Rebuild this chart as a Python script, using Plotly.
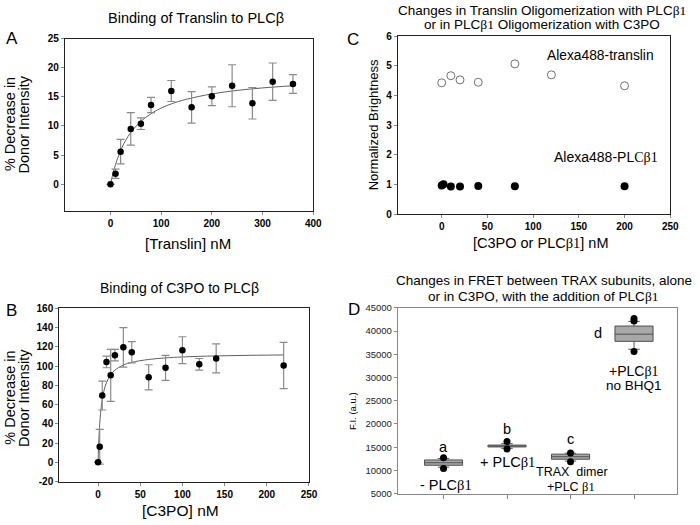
import plotly.graph_objects as go

# ---------- Panel A data ----------
a_x = [0, 10, 20, 40, 60, 80, 120, 160, 200, 240, 280, 320, 360]
a_y = [0, 1.8, 5.6, 9.5, 10.4, 13.6, 16.0, 13.2, 15.1, 16.9, 13.9, 17.6, 17.2]
a_err = [0, 0.8, 2.1, 2.8, 1.0, 1.3, 1.8, 2.7, 1.6, 3.6, 2.7, 3.2, 1.6]
a_fit_x = [0, 5, 10, 20, 30, 40, 60, 80, 100, 120, 150, 200, 250, 300, 360]
a_fit_y = [0, 1.87, 3.41, 5.79, 7.54, 8.88, 10.79, 12.11, 13.07, 13.79, 14.58, 15.50, 16.10, 16.53, 16.90]
a_xticks = [0, 100, 200, 300, 400]
a_yticks = [0, 5, 10, 15, 20, 25]

# ---------- Panel B data ----------
b_x = [0, 2, 5, 10, 15, 20, 30, 40, 60, 80, 100, 120, 140, 220]
b_y = [0, 16.2, 69.3, 104.2, 90.3, 111.3, 119.4, 114.3, 88.3, 98.1, 116.4, 101.8, 107.9, 100.5]
b_err = [0, 18, 15, 6, 27, 6, 20.5, 11, 13, 13, 14, 6, 15, 24]
b_fit_x = [0, 1, 2, 3, 5, 7, 10, 15, 20, 30, 40, 60, 80, 100, 140, 180, 220]
b_fit_y = [0, 24.2, 39.9, 50.9, 65.2, 74.3, 82.8, 91.0, 95.7, 101.0, 103.8, 106.8, 108.4, 109.4, 110.5, 111.1, 111.5]
b_xticks = [0, 50, 100, 150, 200, 250]
b_yticks = [-20, 0, 20, 40, 60, 80, 100, 120, 140, 160]

# ---------- Panel C data ----------
c_trans_x = [0, 10, 20, 40, 80, 120, 200]
c_trans_y = [4.43, 4.67, 4.53, 4.45, 5.07, 4.70, 4.33]
c_plc_x = [0, 2, 10, 20, 40, 80, 200]
c_plc_y = [0.97, 1.01, 0.93, 0.93, 0.95, 0.94, 0.94]
c_xticks = [0, 50, 100, 150, 200, 250]
c_yticks = [0, 1, 2, 3, 4, 5, 6]

# ---------- Panel D data ----------
d_pos = [0, 1, 2, 3]
d_q1 = [11100, 15050, 12400, 37800]
d_median = [11650, 15250, 12950, 39350]
d_q3 = [12250, 15450, 13500, 41100]
d_low = [10700, 14750, 12000, 36100]
d_high = [12550, 15750, 13700, 42100]
d_pts_x = [0, 0, 1, 1, 2, 2, 3, 3, 3]
d_pts_y = [12700, 10400, 16200, 14600, 13750, 11850, 42750, 42200, 35600]
d_letters = ["a", "b", "c", "d"]
d_yticks = [5000, 10000, 15000, 20000, 25000, 30000, 35000, 40000, 45000]

FONT = "Liberation Sans, Arial, sans-serif"
SERIF = "Liberation Serif"
B1 = "<span style='font-family:%s'>β1</span>" % SERIF
FW, FH = 700, 525


def dx(x0, x1):
    return [x0 / FW, x1 / FW]


def dy(top, bottom):
    return [1 - bottom / FH, 1 - top / FH]


def bold(vals):
    return ["<b>%s</b>" % v for v in vals]


fig = go.Figure()

errcol = "#8a8a8a"
# Panel A
fig.add_trace(go.Scatter(x=a_fit_x, y=a_fit_y, mode="lines", line=dict(color="#606060", width=1),
                         xaxis="x", yaxis="y", showlegend=False, line_shape="spline"))
fig.add_trace(go.Scatter(x=a_x, y=a_y, mode="markers", marker=dict(color="black", size=6.5),
                         error_y=dict(type="data", array=a_err, color=errcol, thickness=1.2, width=4),
                         xaxis="x", yaxis="y", showlegend=False))
# Panel B
fig.add_trace(go.Scatter(x=b_fit_x, y=b_fit_y, mode="lines", line=dict(color="#606060", width=1),
                         xaxis="x2", yaxis="y2", showlegend=False, line_shape="spline"))
fig.add_trace(go.Scatter(x=b_x, y=b_y, mode="markers", marker=dict(color="black", size=6.5),
                         error_y=dict(type="data", array=b_err, color=errcol, thickness=1.2, width=4),
                         xaxis="x2", yaxis="y2", showlegend=False))
# Panel C
fig.add_trace(go.Scatter(x=c_trans_x, y=c_trans_y, mode="markers",
                         marker=dict(color="white", size=8, line=dict(color="#707070", width=1)),
                         xaxis="x3", yaxis="y3", showlegend=False))
fig.add_trace(go.Scatter(x=c_plc_x, y=c_plc_y, mode="markers",
                         marker=dict(color="black", size=8),
                         xaxis="x3", yaxis="y3", showlegend=False))
# Panel D
for i in range(len(d_pos)):
    fig.add_trace(go.Box(x=[d_pos[i]], q1=[d_q1[i]], median=[d_median[i]], q3=[d_q3[i]],
                         lowerfence=[d_low[i]], upperfence=[d_high[i]],
                         width=0.6, whiskerwidth=0.3, boxpoints=False,
                         fillcolor="#a8a8a8", line=dict(color="#505050", width=1),
                         xaxis="x4", yaxis="y4", showlegend=False))
fig.add_trace(go.Scatter(x=d_pts_x, y=d_pts_y, mode="markers", marker=dict(color="black", size=7),
                         xaxis="x4", yaxis="y4", showlegend=False))

tickfont_b = dict(family=FONT, size=10, color="black")
frame = dict(showline=True, linecolor="#222222", linewidth=1, mirror=True, showgrid=False,
             zeroline=False, ticks="outside", ticklen=3, tickcolor="#888888")

fig.update_layout(
    width=FW, height=FH, margin=dict(l=0, r=0, t=0, b=0),
    paper_bgcolor="white", plot_bgcolor="white",
    font=dict(family=FONT, color="black"),
    xaxis=dict(domain=dx(65.7, 317.3), range=[-90, 400], tickvals=a_xticks, ticktext=bold(a_xticks),
               tickfont=tickfont_b, anchor="y", **frame),
    yaxis=dict(domain=dy(33.3, 209.3), range=[-4.5, 25], tickvals=a_yticks, ticktext=bold(a_yticks),
               tickfont=tickfont_b, anchor="x", **frame),
    xaxis2=dict(domain=dx(60, 313), range=[-46, 250], tickvals=b_xticks, ticktext=bold(b_xticks),
                tickfont=tickfont_b, anchor="y2", **frame),
    yaxis2=dict(domain=dy(309.3, 486.7), range=[-20, 160], tickvals=b_yticks, ticktext=bold(b_yticks),
                tickfont=tickfont_b, anchor="x2", **frame),
    xaxis3=dict(domain=dx(403, 679), range=[-48, 250], tickvals=c_xticks, ticktext=bold(c_xticks),
                tickfont=tickfont_b, anchor="y3", **frame),
    yaxis3=dict(domain=dy(31, 213), range=[0, 6], tickvals=c_yticks, ticktext=bold(c_yticks),
                tickfont=tickfont_b, anchor="x3", **frame),
    xaxis4=dict(domain=dx(403, 686), range=[-0.72, 3.68], tickvals=d_pos, showticklabels=False,
                anchor="y4", showline=True, linecolor="#888888", mirror=True, showgrid=False,
                zeroline=False, ticks="outside", ticklen=4, tickcolor="#888888"),
    yaxis4=dict(domain=dy(309, 499), range=[5000, 45000], tickvals=d_yticks, tickformat="d",
                tickfont=dict(family=FONT, size=9.5, color="#222222"), anchor="x4",
                showline=True, linecolor="#888888", mirror=True, showgrid=False, zeroline=False,
                ticks="outside", ticklen=3, tickcolor="#888888"),
)

ann = []


def add(text, x, y, size=13, xref="paper", yref="paper", angle=0, **kw):
    if xref == "paper":
        x = x / FW
    if yref == "paper":
        y = 1 - y / FH
    ann.append(dict(text=text, x=x, y=y, xref=xref, yref=yref, showarrow=False,
                    textangle=angle, font=dict(family=FONT, size=size, color="black"),
                    xanchor="center", yanchor="middle", **kw))


# Titles
add("Binding of Translin to PLCβ", 198.5, 12, size=14.5)
add("Binding of C3PO to PLCβ", 181.5, 289, size=14)
add("Changes in Translin Oligomerization with PLC" + B1, 549, 5, size=13.5)
add("or in PLC" + B1 + " Oligomerization with C3PO", 549, 19, size=13.5)
add("Changes in FRET between TRAX subunits, alone", 551, 281, size=13.5)
add("or in C3PO, with the addition of PLC" + B1, 551, 297, size=13.5)
# Panel letters
add("A", 12, 33, size=17)
add("B", 12, 312, size=17)
add("C", 358, 34, size=17)
add("D", 359, 311, size=17)
# Axis titles
add("% Decrease in", 10, 121, size=14.5, angle=-90)
add("Donor Intensity", 24.5, 121, size=14.5, angle=-90)
add("[Translin] nM", 190, 243, size=15)
add("% Decrease in", 10, 401, size=14.5, angle=-90)
add("Donor Intensity", 24.5, 401, size=14.5, angle=-90)
add("[C3PO] nM", 183, 516, size=15.5)
add("Normalized Brightness", 378, 122, size=13, angle=-90)
add("[C3PO or PLC" + B1 + "] nM", 548, 243, size=14.5)
add("F.I. (a.u.)", 357, 415, size=9.5, angle=-90)
# Panel C labels
add("Alexa488-translin", 608, 51, size=13.8)
add("Alexa488-PL<span style='font-family:%s'>Cβ1</span>" % SERIF, 614, 155, size=14)
# Panel D labels
d_letter_y = [15100, 18850, 16750, 39550]
d_letter_x = [0, 1, 2, 2.44]
for i in range(4):
    add(d_letters[i], d_letter_x[i], d_letter_y[i], size=14.5, xref="x4", yref="y4")
add("- PLC" + B1, 0.04, 6900, size=14.5, xref="x4", yref="y4")
add("+ PLC" + B1, 1.0, 11800, size=14.5, xref="x4", yref="y4")
add("TRAX\u00a0\u00a0dimer", 2.02, 9650, size=12.5, xref="x4", yref="y4")
add("+PLC " + B1, 2.0, 6350, size=12.5, xref="x4", yref="y4")
add("+PLC" + B1, 3.0, 31460, size=14, xref="x4", yref="y4")
add("no BHQ1", 3.0, 28300, size=13.5, xref="x4", yref="y4")

fig.update_layout(annotations=ann)
fig.write_html("out.html", config={"displayModeBar": False},
               post_script="document.body.style.margin='0';")
